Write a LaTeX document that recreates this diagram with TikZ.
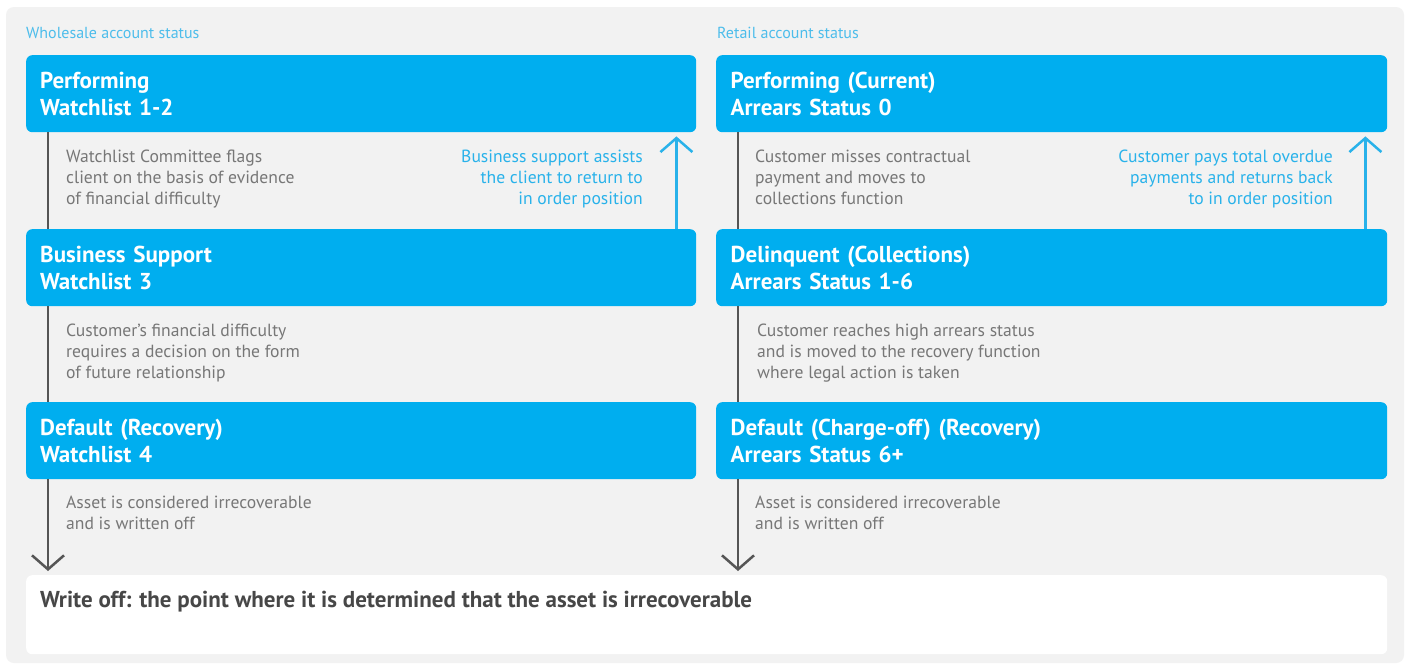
\documentclass[tikz,border=0pt]{standalone}
\usepackage{fontspec}
\setmainfont{PT Sans}
\usetikzlibrary{arrows.meta}
\definecolor{panel}{HTML}{F2F2F2}
\definecolor{boxblue}{HTML}{00AEEF}
\definecolor{lblue}{HTML}{29B2EA}
\definecolor{headblue}{HTML}{4DBDEB}
\definecolor{greytext}{HTML}{777777}
\definecolor{greyline}{HTML}{555555}
\definecolor{darktext}{HTML}{474747}
\tikzset{
  statebox/.style={fill=boxblue, rounded corners=6pt, minimum width=670pt, minimum height=77pt,
    anchor=north west, text width=642pt, inner xsep=14pt, align=left, text=white,
    font=\fontsize{23}{27}\selectfont\bfseries},
  note/.style={anchor=base west, inner sep=0pt, align=left, text=greytext, font=\fontsize{17.6}{21}\selectfont},
  bnote/.style={anchor=base east, inner sep=0pt, align=right, text=lblue, font=\fontsize{17.6}{21}\selectfont},
  head/.style={anchor=base west, inner sep=0pt, text=headblue, font=\fontsize{16}{20}\selectfont},
  downline/.style={draw=greyline, line width=2.5pt},
  downarrow/.style={draw=greyline, line width=2.5pt, -{Straight Barb[length=14pt,width=32pt,line width=2.5pt]}},
  uparrow/.style={draw=lblue, line width=2.5pt, -{Straight Barb[length=14pt,width=32pt,line width=2.5pt]}}
}
\begin{document}
\begin{tikzpicture}[x=1pt,y=-1pt]
\useasboundingbox (0,0) rectangle (1406,664);
\fill[white] (0,0) rectangle (1406,664);
\fill[panel, rounded corners=8pt] (6,7) rectangle (1404,663);

\node[head] (hw) at (26,38) {Wholesale account status};
\node[head] (hr) at (717,38) {Retail account status};

% wholesale boxes
\node[statebox] (w1) at (26,55) {Performing\\Watchlist 1-2};
\node[statebox] (w2) at (26,229) {Business Support\\Watchlist 3};
\node[statebox] (w3) at (26,402) {Default (Recovery)\\Watchlist 4};
% retail boxes
\node[statebox, minimum width=671pt] (r1) at (716,55) {Performing (Current)\\Arrears Status 0};
\node[statebox, minimum width=671pt] (r2) at (716,229) {Delinquent (Collections)\\Arrears Status 1-6};
\node[statebox, minimum width=671pt] (r3) at (716,402) {Default (Charge-off) (Recovery)\\Arrears Status 6+};

% write-off box
\node[fill=white, rounded corners=6pt, minimum width=1361pt, minimum height=79pt, anchor=north west] (wo) at (26,575) {};
\node[anchor=base west, inner sep=0pt, text=darktext, font=\fontsize{23}{27}\selectfont\bfseries] (wot) at (40,607)
  {Write off: the point where it is determined that the asset is irrecoverable};

% wholesale notes (base = last line)
\node[note] (wn1) at (66,204) {Watchlist Committee flags\\client on the basis of evidence\\of financial difficulty};
\node[bnote] (wb1) at (643,204) {Business support assists\\the client to return to\\in order position};
\node[note] (wn2) at (66,378) {Customer’s financial difficulty\\requires a decision on the form\\of future relationship};
\node[note] (wn3) at (66,529) {Asset is considered irrecoverable\\and is written off};
% retail notes
\node[note] (rn1) at (755,204) {Customer misses contractual\\payment and moves to\\collections function};
\node[bnote] (rb1) at (1333,204) {Customer pays total overdue\\payments and returns back\\to in order position};
\node[note] (rn2) at (757,378) {Customer reaches high arrears status\\and is moved to the recovery function\\where legal action is taken};
\node[note] (rn3) at (755,529) {Asset is considered irrecoverable\\and is written off};

% connectors wholesale
\draw[downline] ([xshift=22pt]w1.south west) -- ([xshift=22pt]w2.north west);
\draw[downline] ([xshift=22pt]w2.south west) -- ([xshift=22pt]w3.north west);
\draw[downarrow] ([xshift=22pt]w3.south west) -- ([xshift=22pt,yshift=4pt]wo.north west);
\draw[uparrow] ([xshift=-20pt]w2.north east) -- ([xshift=-20pt,yshift=-4pt]w1.south east);
% connectors retail
\coordinate (rwo) at ([yshift=4pt]wo.north -| r3.south west);
\draw[downline] ([xshift=22pt]r1.south west) -- ([xshift=22pt]r2.north west);
\draw[downline] ([xshift=22pt]r2.south west) -- ([xshift=22pt]r3.north west);
\draw[downarrow] ([xshift=22pt]r3.south west) -- ([xshift=22pt]rwo);
\draw[uparrow] ([xshift=-22pt]r2.north east) -- ([xshift=-22pt,yshift=-4pt]r1.south east);
\end{tikzpicture}
\end{document}
